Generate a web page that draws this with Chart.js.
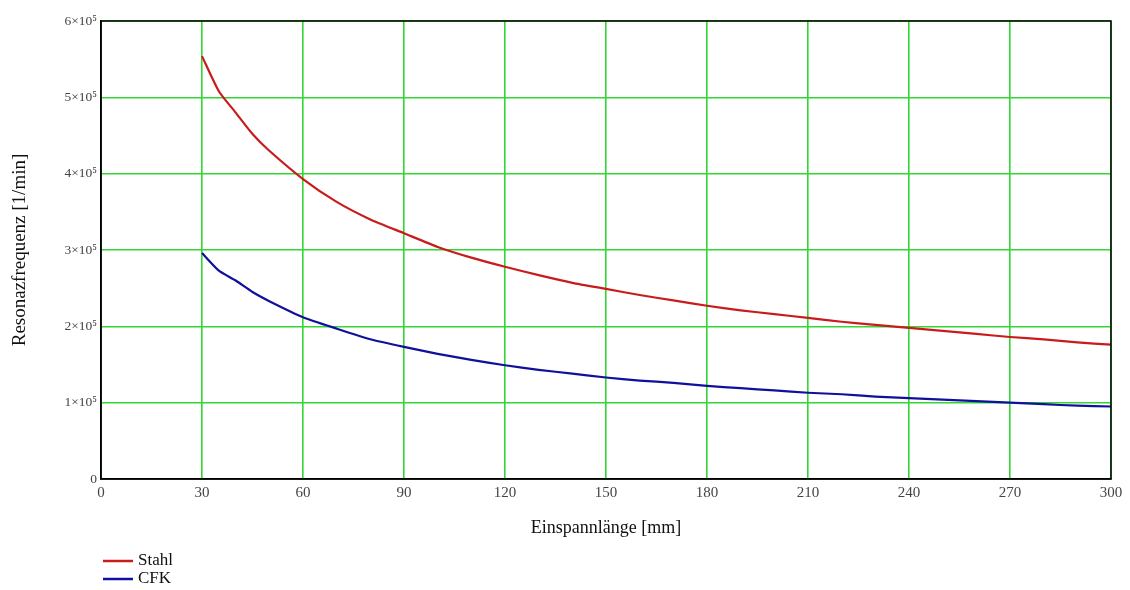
<!DOCTYPE html>
<html>
<head>
<meta charset="utf-8">
<script src="https://cdn.jsdelivr.net/npm/chart.js@4.4.0/dist/chart.umd.min.js"></script>
<style>
  html, body { margin: 0; padding: 0; background: #fff; }
  #wrap { width: 1130px; height: 590px; position: relative; }
</style>
</head>
<body>
<div id="wrap"><canvas id="c" width="1130" height="590"></canvas></div>
<script>
const lengths = [30, 35, 40, 45, 50, 60, 70, 80, 90, 100, 110, 120, 130, 140, 150, 160, 170, 180, 190, 200, 210, 220, 230, 240, 250, 260, 270, 280, 290, 300];
const stahl = [554000, 508000, 480000, 452000, 430000, 393000, 363000, 340000, 322000, 304000, 290000, 278000, 267000, 257000, 249000, 241000, 234000, 227000, 221000, 216000, 211000, 206000, 202000, 198000, 194000, 190000, 186000, 183000, 179000, 176000];
const cfk = [296000, 273000, 260000, 245000, 233000, 212000, 197000, 183000, 173000, 164000, 156000, 149000, 143000, 138000, 133000, 129000, 126000, 122000, 119000, 116000, 113000, 111000, 108000, 106000, 104000, 102000, 100000, 98000, 96000, 95000];
const xTicks = [0, 30, 60, 90, 120, 150, 180, 210, 240, 270, 300];
const yTickLabels = ['0', '1×10⁵', '2×10⁵', '3×10⁵', '4×10⁵', '5×10⁵', '6×10⁵'];
const seriesNames = ['Stahl', 'CFK'];
const seriesColors = ['#c81c1c', '#10109c'];

const toPts = (arr) => lengths.map((x, i) => ({x: x, y: arr[i]}));

const frame = {
  id: 'frame',
  afterDatasetsDraw(chart) {
    const {ctx, chartArea: a} = chart;
    ctx.save();
    ctx.strokeStyle = '#000';
    ctx.lineWidth = 1.5;
    ctx.strokeRect(a.left, a.top, a.right - a.left, a.bottom - a.top);
    ctx.restore();
  }
};

const legendPlugin = {
  id: 'stackLegend',
  afterDraw(chart) {
    const ctx = chart.ctx;
    ctx.save();
    ctx.font = '17px "Liberation Serif"';
    ctx.textBaseline = 'middle';
    chart.data.datasets.forEach((ds, i) => {
      const y = 561 + i * 18;
      ctx.strokeStyle = ds.borderColor;
      ctx.lineWidth = 2.5;
      ctx.beginPath();
      ctx.moveTo(103, y);
      ctx.lineTo(133, y);
      ctx.stroke();
      ctx.fillStyle = '#111';
      ctx.fillText(ds.label, 138, y);
    });
    ctx.restore();
  }
};

new Chart(document.getElementById('c'), {
  type: 'line',
  data: {
    datasets: [
      { label: seriesNames[0], data: toPts(stahl), borderColor: seriesColors[0], borderWidth: 2.2, pointRadius: 0, tension: 0.2, fill: false },
      { label: seriesNames[1], data: toPts(cfk), borderColor: seriesColors[1], borderWidth: 2.2, pointRadius: 0, tension: 0.2, fill: false }
    ]
  },
  options: {
    responsive: false,
    animation: false,
    layout: { padding: { top: 21, right: 19, bottom: 51, left: 0 } },
    plugins: { legend: { display: false }, tooltip: { enabled: false } },
    scales: {
      x: {
        type: 'linear', min: 0, max: 300,
        afterBuildTicks: (s) => { s.ticks = xTicks.map(v => ({value: v})); },
        afterFit: (s) => { s.height = 60; },
        ticks: { color: '#444', font: { family: 'Liberation Serif', size: 15 }, padding: 5 },
        grid: { color: '#33d633', lineWidth: 1.6, drawTicks: false },
        border: { color: '#000', width: 1.5 },
        title: { display: true, text: 'Einspannlänge [mm]', color: '#111', font: { family: 'Liberation Serif', size: 18 }, padding: { top: 0, bottom: 0 } }
      },
      y: {
        type: 'linear', min: 0, max: 600000,
        afterBuildTicks: (s) => { s.ticks = yTickLabels.map((_, i) => ({value: i * 100000})); },
        afterFit: (s) => { s.width = 101; },
        ticks: { color: '#444', font: { family: 'Liberation Serif', size: 13.5 }, padding: 4,
          callback: (v) => yTickLabels[Math.round(v / 100000)] },
        grid: { color: '#33d633', lineWidth: 1.6, drawTicks: false },
        border: { color: '#000', width: 1.5 },
        title: { display: true, text: 'Resonazfrequenz [1/min]', color: '#111', font: { family: 'Liberation Serif', size: 19 }, padding: { top: 9, bottom: 0 } }
      }
    }
  },
  plugins: [frame, legendPlugin]
});
</script>
</body>
</html>
